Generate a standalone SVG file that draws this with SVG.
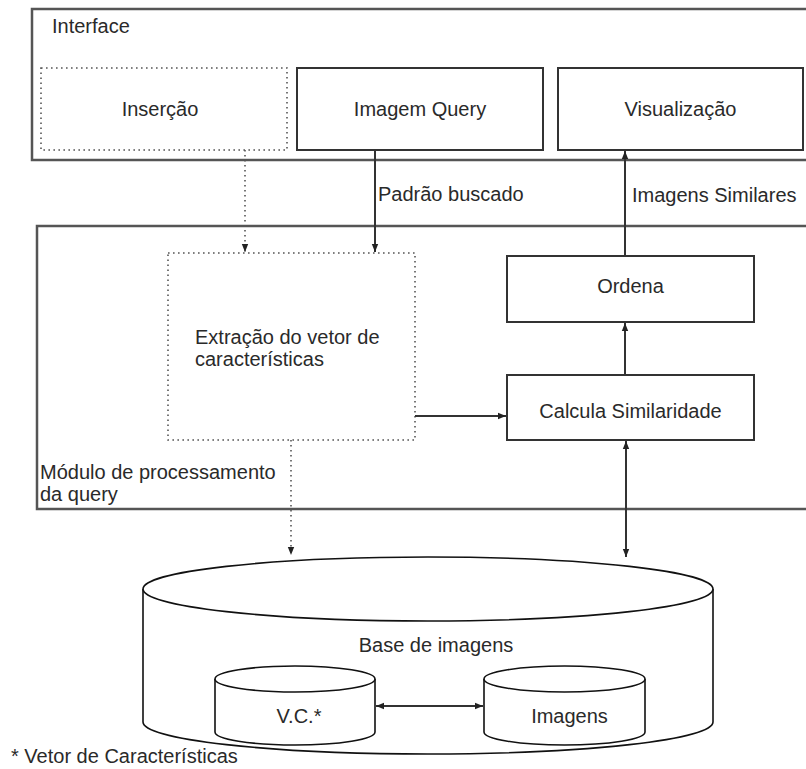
<svg xmlns="http://www.w3.org/2000/svg" width="806" height="769" viewBox="0 0 806 769">
  <defs>
    <marker id="arrow" viewBox="0 0 10 10" refX="10" refY="5" markerWidth="8" markerHeight="8" markerUnits="userSpaceOnUse" orient="auto-start-reverse">
      <path d="M0,1 L10,5 L0,9 z" fill="#222"/>
    </marker>
    <style>
      text { font-family: "Liberation Sans", Arial, sans-serif; font-size: 20px; fill: #2a2a2a; }
      .mid { text-anchor: middle; }
      .frame { fill: none; stroke: #555; stroke-width: 2.5; }
      .box { fill: #fff; stroke: #333; stroke-width: 2; }
      .dotbox { fill: #fff; stroke: #555; stroke-width: 1.6; stroke-dasharray: 1.6 3.4; }
      .link { fill: none; stroke: #333; stroke-width: 2; }
      .dotlink { fill: none; stroke: #555; stroke-width: 1.6; stroke-dasharray: 1.6 3.4; }
      .cyl { fill: #fff; stroke: #111; stroke-width: 1.6; }
    </style>
  </defs>

  <!-- Interface frame -->
  <g id="interface">
    <rect class="frame" x="32" y="9" width="790" height="151"/>
    <text x="52" y="33">Interface</text>
  </g>

  <!-- Query processing module frame -->
  <g id="modulo">
    <rect class="frame" x="37" y="226" width="790" height="283"/>
    <text x="40" y="479">Módulo de processamento</text>
    <text x="40" y="501">da query</text>
  </g>

  <g id="insercao">
    <rect class="dotbox" x="41" y="68" width="246" height="82"/>
    <text class="mid" x="160" y="116">Inserção</text>
  </g>

  <g id="imagem-query">
    <rect class="box" x="297" y="68" width="246" height="82"/>
    <text class="mid" x="420" y="116">Imagem Query</text>
  </g>

  <g id="visualizacao">
    <rect class="box" x="558" y="68" width="245" height="82"/>
    <text class="mid" x="680.5" y="116">Visualização</text>
  </g>

  <g id="extracao">
    <rect class="dotbox" x="168" y="253" width="247" height="187"/>
    <text x="195" y="344">Extração do vetor de</text>
    <text x="195" y="366">características</text>
  </g>

  <g id="ordena">
    <rect class="box" x="507" y="256" width="247" height="66"/>
    <text class="mid" x="630.5" y="293">Ordena</text>
  </g>

  <g id="calcula">
    <rect class="box" x="507" y="375" width="247" height="65"/>
    <text class="mid" x="630.5" y="418">Calcula Similaridade</text>
  </g>

  <!-- Image database cylinder -->
  <g id="base-imagens">
    <path class="cyl" d="M143,589 L143,722 A285,32 0 0 0 713,722 L713,589"/>
    <ellipse class="cyl" cx="428" cy="589" rx="285" ry="32"/>
    <text class="mid" x="436" y="652">Base de imagens</text>
  </g>

  <g id="vc">
    <path class="cyl" d="M215,679 L215,732 A80,13 0 0 0 375,732 L375,679"/>
    <ellipse class="cyl" cx="295" cy="679" rx="80" ry="13"/>
    <text class="mid" x="299" y="723">V.C.*</text>
  </g>

  <g id="imagens">
    <path class="cyl" d="M484,679 L484,732 A80.5,13 0 0 0 645,732 L645,679"/>
    <ellipse class="cyl" cx="564.5" cy="679" rx="80.5" ry="13"/>
    <text class="mid" x="569.5" y="723">Imagens</text>
  </g>

  <!-- Connectors -->
  <g id="connectors">
    <line class="dotlink" x1="245" y1="150" x2="245" y2="252" marker-end="url(#arrow)"/>
    <line class="link" x1="375" y1="150" x2="375" y2="252" marker-end="url(#arrow)"/>
    <line class="link" x1="625" y1="256" x2="625" y2="151" marker-end="url(#arrow)"/>
    <line class="link" x1="625" y1="375" x2="625" y2="323" marker-end="url(#arrow)"/>
    <line class="link" x1="415" y1="416" x2="506" y2="416" marker-end="url(#arrow)"/>
    <line class="dotlink" x1="291" y1="440" x2="291" y2="555" marker-end="url(#arrow)"/>
    <line class="link" x1="626" y1="441" x2="626" y2="557" marker-start="url(#arrow)" marker-end="url(#arrow)"/>
    <line class="link" x1="376" y1="706" x2="483" y2="706" marker-start="url(#arrow)" marker-end="url(#arrow)"/>
    <text x="378" y="201">Padrão buscado</text>
    <text x="632" y="202">Imagens Similares</text>
  </g>

  <text x="11" y="763">* Vetor de Características</text>
</svg>
